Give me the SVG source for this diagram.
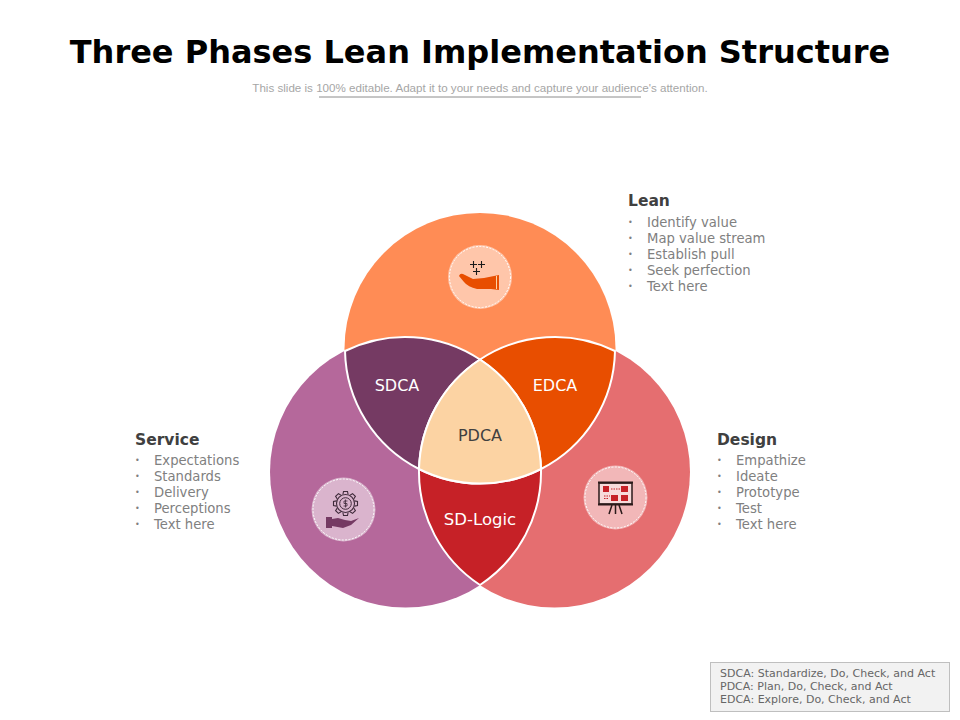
<svg xmlns="http://www.w3.org/2000/svg" width="960" height="720" viewBox="0 0 960 720">
<style>
.v{font-family:"DejaVu Sans",Verdana,sans-serif}
.h{font-size:15.500px;font-weight:700;fill:#404040}
.b{font-size:13.200px;fill:#808080}
.d{font-size:8px;fill:#808080}
.l{font-size:16px;fill:#fff;text-anchor:middle}
.n{font-size:11px;fill:#666}
.r{stroke:#fff;stroke-width:2;stroke-linejoin:round}
.halo{fill:#fff;fill-opacity:.5}
.dash{fill:none;stroke:#fff;stroke-width:1;stroke-dasharray:2 1.400}
</style>
<defs>
<path id="tooth" d="M-2.600,-9 L-2,-12 H2 L2.600,-9" fill="none" stroke="#3f2a3a" stroke-width="1.100"/>
</defs>
<rect width="960" height="720" fill="#fff"/>
<text id="title" x="480" y="63" text-anchor="middle" class="v" font-size="32" font-weight="700" fill="#000">Three Phases Lean Implementation Structure</text>
<text id="subtitle" x="480" y="92" text-anchor="middle" font-family="'Liberation Sans',Arial,sans-serif" font-size="11.600" fill="#a6a6a6">This slide is 100% editable. Adapt it to your needs and capture your audience's attention.</text>
<line x1="319" y1="97" x2="641" y2="97" stroke="#8c8c8c" stroke-width="1"/>

<g id="circles">
<circle id="circle-lean" cx="480" cy="348.500" r="135.500" fill="#ff8c55"/>
<circle id="circle-service" cx="405.500" cy="472" r="135.500" fill="#b5689b"/>
<circle id="circle-design" cx="554.500" cy="472" r="135.500" fill="#e56e70"/>
</g>
<g id="node-sdca">
<path class="r" fill="#753a63" d="M345,351 A135.500 135.500 0 0 1 480,359.500 A135.500 135.500 0 0 0 419,469 A135.500 135.500 0 0 1 345,351Z"/>
<text class="v l" x="397" y="391">SDCA</text>
</g>
<g id="node-edca">
<path class="r" fill="#e84e00" d="M615,351 A135.500 135.500 0 0 0 480,359.500 A135.500 135.500 0 0 1 541,469 A135.500 135.500 0 0 0 615,351Z"/>
<text class="v l" x="555" y="391">EDCA</text>
</g>
<g id="node-sdlogic">
<path class="r" fill="#c62127" d="M419,469 A135.500 135.500 0 0 0 541,469 A135.500 135.500 0 0 1 480,585 A135.500 135.500 0 0 1 419,469Z"/>
<text class="v l" x="480" y="525" style="font-size:16.500px">SD-Logic</text>
</g>
<g id="node-pdca">
<path class="r" fill="#fcd3a3" d="M480,359.500 A135.500 135.500 0 0 0 419,469 A135.500 135.500 0 0 0 541,469 A135.500 135.500 0 0 0 480,359.500Z"/>
<text class="v l" x="480" y="441" style="fill:#404040">PDCA</text>
</g>

<g id="icon-lean">
<circle class="halo" cx="480" cy="277" r="32"/>
<circle class="dash" cx="480" cy="277" r="30.500"/>
<path d="M459,276 Q460,273 463,274 L473,279 L484,278 L499,275 V290 L491,289 L477,289 Q468,287 464,282 Z" fill="#e84e00"/>
<path d="M496.500,276V289" stroke="#fcd3a3" stroke-width="1"/>
<path d="M470,264.500h7M473.500,261v7M478,264.500h7M481.500,261v7M473,271.500h7M476.500,268v7" stroke="#1a1a1a" stroke-width="1.100" fill="none"/>
</g>
<g id="icon-service">
<circle class="halo" cx="343.500" cy="509.500" r="32"/>
<circle class="dash" cx="343.500" cy="509.500" r="30.500"/>
<g transform="translate(345.500 503.500)">
<circle r="9" fill="none" stroke="#3f2a3a" stroke-width="1.100"/>
<circle r="5.800" fill="none" stroke="#3f2a3a" stroke-width="1"/>
<use href="#tooth"/>
<use href="#tooth" transform="rotate(45)"/>
<use href="#tooth" transform="rotate(90)"/>
<use href="#tooth" transform="rotate(135)"/>
<use href="#tooth" transform="rotate(180)"/>
<use href="#tooth" transform="rotate(225)"/>
<use href="#tooth" transform="rotate(270)"/>
<use href="#tooth" transform="rotate(315)"/>
<path d="M2,-2.500h-3.500v2.500h3v2.500h-3.500M0,-4v8" fill="none" stroke="#3f2a3a" stroke-width=".8"/>
</g>
<path d="M326,517h6v11h-6ZM332,519 L338,518 L345,520 L351,521 L359,518 L351,525 L343,528 L332,526Z" fill="#753a63"/>
</g>
<g id="icon-design">
<circle class="halo" cx="615.500" cy="497.500" r="32"/>
<circle class="dash" cx="615.500" cy="497.500" r="30.500"/>
<rect x="599" y="483" width="33" height="21" fill="#f7dada" stroke="#2b1a1a" stroke-width="1.500"/>
<path d="M598,482.500h35M598,504.500h35" stroke="#2b1a1a" stroke-width="2"/>
<rect x="603" y="486" width="6" height="6" fill="#c62127"/>
<rect x="621" y="486" width="7" height="6" fill="#c62127"/>
<rect x="621" y="495" width="7" height="6" fill="#c62127"/>
<rect x="611" y="495" width="7" height="6" fill="#c62127"/>
<path d="M611,489h9M604,496h6M604,498.500h5" stroke="#c62127" stroke-width="1" stroke-dasharray="1.500 1" fill="none"/>
<path d="M612,505L609,514M615.500,505V514M619,505L622,514" stroke="#2b1a1a" stroke-width="1.500" fill="none"/>
</g>

<g id="label-lean" class="v">
<text class="h" x="628" y="206">Lean</text>
<text class="d" x="628" y="225">•</text><text class="b" x="647" y="227">Identify value</text>
<text class="d" x="628" y="241">•</text><text class="b" x="647" y="243">Map value stream</text>
<text class="d" x="628" y="257">•</text><text class="b" x="647" y="259">Establish pull</text>
<text class="d" x="628" y="273">•</text><text class="b" x="647" y="275">Seek perfection</text>
<text class="d" x="628" y="289">•</text><text class="b" x="647" y="291">Text here</text>
</g>
<g id="label-service" class="v">
<text class="h" x="135" y="445">Service</text>
<text class="d" x="135" y="463">•</text><text class="b" x="154" y="465">Expectations</text>
<text class="d" x="135" y="479">•</text><text class="b" x="154" y="481">Standards</text>
<text class="d" x="135" y="495">•</text><text class="b" x="154" y="497">Delivery</text>
<text class="d" x="135" y="511">•</text><text class="b" x="154" y="513">Perceptions</text>
<text class="d" x="135" y="527">•</text><text class="b" x="154" y="529">Text here</text>
</g>
<g id="label-design" class="v">
<text class="h" x="717" y="445">Design</text>
<text class="d" x="717" y="463">•</text><text class="b" x="736" y="465">Empathize</text>
<text class="d" x="717" y="479">•</text><text class="b" x="736" y="481">Ideate</text>
<text class="d" x="717" y="495">•</text><text class="b" x="736" y="497">Prototype</text>
<text class="d" x="717" y="511">•</text><text class="b" x="736" y="513">Test</text>
<text class="d" x="717" y="527">•</text><text class="b" x="736" y="529">Text here</text>
</g>
<g id="legend" class="v">
<rect x="710.500" y="662.500" width="239" height="49" fill="#f2f2f2" stroke="#bfbfbf"/>
<text class="n" x="720" y="677">SDCA: Standardize, Do, Check, and Act</text>
<text class="n" x="720" y="690">PDCA: Plan, Do, Check, and Act</text>
<text class="n" x="720" y="703">EDCA: Explore, Do, Check, and Act</text>
</g>
<g id="connectors"></g>
</svg>
